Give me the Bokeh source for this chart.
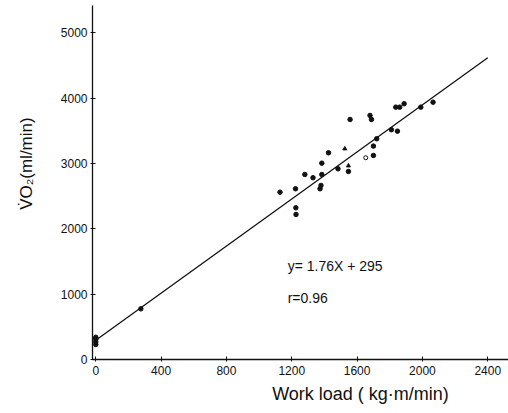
from bokeh.plotting import figure
from bokeh.models import Range1d, FixedTicker, Label
from bokeh.embed import file_html
from bokeh.resources import INLINE

# Data
work_load = [1128, 1223, 1225, 1226, 1280, 1330, 1384, 1384, 1379, 1373,
             1425, 1483, 1547, 1557, 1700, 1700, 1720, 1679, 1688,
             1810, 1847, 1837, 1861, 1888, 1990, 2065,
             0, 0, 0, 0, 276]
vo2 = [2562, 2614, 2323, 2221, 2833, 2783, 3006, 2833, 2665, 2614,
       3165, 2920, 2879, 3675, 3124, 3267, 3380, 3737, 3675,
       3518, 3496, 3864, 3864, 3916, 3864, 3940,
       230, 270, 310, 340, 776]
open_x = [1653]
open_y = [3089]
tri_x = [1525, 1547]
tri_y = [3227, 2966]

fit_x = [0, 2400]
fit_y = [295, 4620]

x_ticks = [0, 400, 800, 1200, 1600, 2000, 2400]
y_ticks = [0, 1000, 2000, 3000, 4000, 5000]

x_title = "Work load ( kg·m/min)"
y_title = "V̇O₂(ml/min)"
eq_text = "y= 1.76X + 295"
r_text = "r=0.96"

ink = "#111111"
font = "Liberation Sans"
NBSP = "\u00a0"

p = figure(width=508, height=413, output_backend="svg", toolbar_location=None,
           x_range=Range1d(-20, 2527), y_range=Range1d(0, 5420),
           min_border_left=92, min_border_right=0, min_border_top=5, min_border_bottom=54)
p.outline_line_color = None
p.grid.visible = False
p.background_fill_color = "white"
p.border_fill_color = "white"

for ax, ticks in ((p.xaxis[0], x_ticks), (p.yaxis[0], y_ticks)):
    ax.ticker = FixedTicker(ticks=ticks)
    ax.minor_tick_line_color = None
    ax.major_tick_in = 3
    ax.major_tick_out = 2
    ax.axis_line_color = ink
    ax.axis_line_width = 1.3
    ax.major_tick_line_color = ink
    ax.major_label_text_font = font
    ax.major_label_text_font_size = "12px"
    ax.major_label_text_color = ink
    ax.axis_label_text_font = font
    ax.axis_label_text_font_style = "normal"
    ax.axis_label_text_color = ink

p.xaxis.major_label_standoff = 4
p.yaxis.major_label_standoff = 3

# titles (padded with non-breaking spaces to shift them off-centre as in the original)
p.xaxis.axis_label = NBSP * 24 + x_title
p.xaxis.axis_label_text_font_size = "18px"
p.xaxis.axis_label_standoff = 6
p.yaxis.axis_label = NBSP * 8 + y_title
p.yaxis.axis_label_text_font_size = "17px"
p.yaxis.axis_label_standoff = 22

p.line(fit_x, fit_y, line_color=ink, line_width=1.3)
p.scatter(work_load, vo2, size=4.5, color=ink)
p.scatter(open_x, open_y, size=4, fill_color="white", line_color=ink, line_width=1)
p.scatter(tri_x, tri_y, marker="triangle", size=4, color=ink)

p.add_layout(Label(x=1175, y=1424, text=eq_text, text_font=font, text_font_size="14px",
                   text_color=ink, text_baseline="middle"))
p.add_layout(Label(x=1175, y=934, text=r_text, text_font=font, text_font_size="14px",
                   text_color=ink, text_baseline="middle"))

open("out.html", "w").write(file_html(p, INLINE))
